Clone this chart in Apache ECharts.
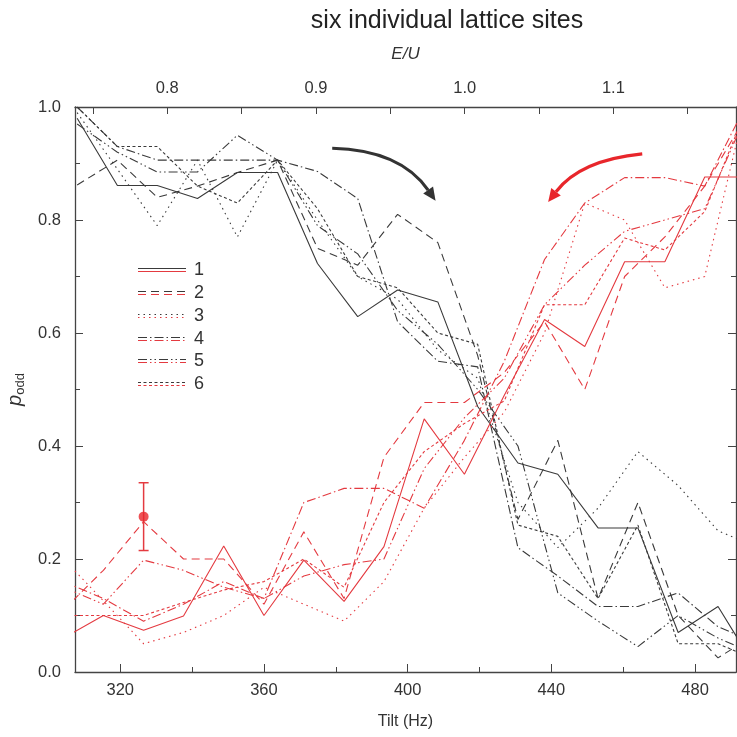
<!DOCTYPE html>
<html>
<head>
<meta charset="utf-8">
<script src="https://cdn.jsdelivr.net/npm/echarts@6/dist/echarts.min.js"></script>
<style>
  html, body { margin: 0; background: #fff; }
  #chart { width: 737px; height: 737px; }
</style>
</head>
<body>
<div id="chart"></div>
<script>
// tilt frequencies (Hz) of the two sweeps
const tiltBlack = [308, 319.2, 330.3, 341.5, 352.6, 363.8, 374.9, 386.1, 397.2, 408.4, 419.5, 430.7, 441.8, 453, 464.1, 475.3, 486.4, 497.6]
const tiltRed   = [304.2, 315.3, 326.5, 337.6, 348.8, 360, 371.1, 382.3, 393.4, 404.6, 415.8, 426.9, 438.1, 449.3, 460.4, 471.6, 482.7, 493.9]

// p_odd, sweep towards higher tilt (black)
const site1Black = [0.98, 0.861, 0.861, 0.838, 0.884, 0.884, 0.723, 0.629, 0.676, 0.655, 0.47, 0.37, 0.35, 0.255, 0.255, 0.07, 0.116, 0.0]
const site2Black = [0.862, 0.906, 0.84, 0.86, 0.884, 0.906, 0.75, 0.72, 0.81, 0.76, 0.56, 0.27, 0.41, 0.13, 0.30, 0.10, 0.025, 0.07]
const site3Black = [0.99, 0.89, 0.79, 0.906, 0.77, 0.906, 0.80, 0.70, 0.66, 0.57, 0.52, 0.30, 0.22, 0.29, 0.39, 0.33, 0.25, 0.22]
const site4Black = [1.0, 0.93, 0.906, 0.906, 0.906, 0.906, 0.886, 0.838, 0.62, 0.55, 0.54, 0.22, 0.17, 0.116, 0.116, 0.14, 0.08, 0.05]
const site5Black = [0.97, 0.92, 0.885, 0.885, 0.95, 0.906, 0.79, 0.74, 0.64, 0.58, 0.50, 0.40, 0.14, 0.09, 0.045, 0.10, 0.06, 0.03]
const site6Black = [1.0, 0.93, 0.93, 0.86, 0.83, 0.906, 0.82, 0.70, 0.68, 0.60, 0.58, 0.26, 0.24, 0.13, 0.26, 0.05, 0.05, 0.02]

// p_odd, reverse sweep (red)
const site1Red = [0.06, 0.10, 0.074, 0.099, 0.223, 0.10, 0.198, 0.125, 0.222, 0.448, 0.35, 0.49, 0.624, 0.576, 0.726, 0.726, 0.876, 0.876]
const site2Red = [0.11, 0.18, 0.266, 0.20, 0.20, 0.12, 0.248, 0.13, 0.38, 0.477, 0.477, 0.53, 0.62, 0.50, 0.70, 0.77, 0.86, 0.98]
const site3Red = [0.20, 0.126, 0.05, 0.07, 0.10, 0.15, 0.12, 0.09, 0.16, 0.29, 0.38, 0.46, 0.60, 0.83, 0.80, 0.68, 0.70, 1.0]
const site4Red = [0.16, 0.13, 0.09, 0.12, 0.16, 0.13, 0.30, 0.325, 0.325, 0.29, 0.41, 0.55, 0.73, 0.83, 0.875, 0.875, 0.86, 1.0]
const site5Red = [0.15, 0.12, 0.198, 0.18, 0.15, 0.13, 0.17, 0.19, 0.20, 0.36, 0.45, 0.52, 0.65, 0.72, 0.78, 0.80, 0.82, 0.98]
const site6Red = [0.10, 0.10, 0.10, 0.123, 0.145, 0.16, 0.20, 0.15, 0.30, 0.39, 0.44, 0.48, 0.65, 0.65, 0.768, 0.747, 0.815, 0.99]

const siteNames = ['1', '2', '3', '4', '5', '6']

// typical error bar
const errTilt = 326.5
const errMean = 0.275
const errLow  = 0.215
const errHigh = 0.335

// axis ticks
const tiltLabels     = [320, 360, 400, 440, 480]
const tiltMinorTicks = [340, 380, 420, 460]
const euLabels       = [0.8, 0.9, 1.0, 1.1]
const euTicks        = [0.75, 0.8, 0.85, 0.9, 0.95, 1.0, 1.05, 1.1, 1.15]

const BLACK = '#3a3a3a'
const RED   = '#e43a40'
const FONT  = '"Liberation Sans", Arial, sans-serif'
const DASHES = ['solid', [8, 5], [1.5, 4], [9, 3, 1.5, 3], [9, 3, 1.5, 3, 1.5, 3], [3, 2.5]]

const blackSets = [site1Black, site2Black, site3Black, site4Black, site5Black, site6Black]
const redSets   = [site1Red, site2Red, site3Red, site4Red, site5Red, site6Red]

const chart = echarts.init(document.getElementById('chart'))

function lineSeries(name, xs, ys, color, dash) {
  return {
    name, type: 'line', xAxisIndex: 0, yAxisIndex: 0,
    data: xs.map((x, i) => [x, ys[i]]),
    symbol: 'none', clip: true, silent: true,
    lineStyle: { color, width: 1.1, type: dash },
    z: 3,
  }
}

const series = []
blackSets.forEach((ys, i) => series.push(lineSeries(siteNames[i], tiltBlack, ys, BLACK, DASHES[i])))
redSets.forEach((ys, i) => series.push(lineSeries(siteNames[i], tiltRed, ys, RED, DASHES[i])))

series.push({
  type: 'custom', xAxisIndex: 0, yAxisIndex: 0, z: 5,
  data: [[errTilt, errLow, errHigh]],
  renderItem(params, api) {
    const top = api.coord([api.value(0), api.value(2)])
    const bot = api.coord([api.value(0), api.value(1)])
    const st = { stroke: RED, lineWidth: 1.5 }
    return {
      type: 'group',
      children: [
        { type: 'line', shape: { x1: top[0], y1: top[1], x2: bot[0], y2: bot[1] }, style: st },
        { type: 'line', shape: { x1: top[0] - 5, y1: top[1], x2: top[0] + 5, y2: top[1] }, style: st },
        { type: 'line', shape: { x1: bot[0] - 5, y1: bot[1], x2: bot[0] + 5, y2: bot[1] }, style: st },
      ],
    }
  },
})
series.push({
  type: 'scatter', xAxisIndex: 0, yAxisIndex: 0, z: 6,
  data: [[errTilt, errMean]], symbolSize: 10,
  itemStyle: { color: '#e8262b' },
})

const labelStyle = { color: '#333', fontSize: 16.5, fontFamily: FONT }
const axisLine = { show: true, lineStyle: { color: '#444', width: 1.3 } }

chart.setOption({
  animation: false,
  title: {
    text: 'six individual lattice sites',
    left: 442, top: 4, textAlign: 'center',
    textStyle: { fontSize: 25, fontWeight: 'normal', color: '#222', fontFamily: FONT },
  },
  grid: { left: 75, right: 1, top: 107, bottom: 65, outerBoundsMode: 'none', containLabel: false },
  xAxis: [
    {
      type: 'value', position: 'bottom', min: 307.4, max: 491.4,
      name: 'Tilt (Hz)', nameLocation: 'middle', nameGap: 42,
      nameTextStyle: { color: '#333', fontSize: 16, fontFamily: FONT },
      axisLine,
      axisTick: { inside: true, length: 8, customValues: tiltLabels, lineStyle: { color: '#444' } },
      axisLabel: { ...labelStyle, margin: 10, customValues: tiltLabels },
      splitLine: { show: false },
    },
    {
      type: 'value', position: 'bottom', min: 307.4, max: 491.4,
      axisLine: { show: false },
      axisTick: { inside: true, length: 5, customValues: tiltMinorTicks, lineStyle: { color: '#444' } },
      axisLabel: { show: false },
      splitLine: { show: false },
    },
    {
      type: 'value', position: 'top', min: 0.7379, max: 1.1825,
      name: 'E/U', nameLocation: 'middle', nameGap: 44,
      nameTextStyle: { color: '#333', fontSize: 17, fontStyle: 'italic', fontFamily: FONT },
      axisLine,
      axisTick: { inside: true, length: 7, customValues: euTicks, lineStyle: { color: '#444' } },
      axisLabel: { ...labelStyle, margin: 10, customValues: euLabels, formatter: v => v.toFixed(1) },
      splitLine: { show: false },
    },
  ],
  yAxis: [
    {
      type: 'value', position: 'left', min: 0, max: 1, interval: 0.2,
      name: '{p|p}{s|odd}', nameLocation: 'middle', nameGap: 36,
      nameTextStyle: {
        color: '#333', fontFamily: FONT,
        rich: {
          p: { fontSize: 20, fontStyle: 'italic', fontFamily: FONT, color: '#333', lineHeight: 24, verticalAlign: 'middle' },
          s: { fontSize: 13, fontFamily: FONT, color: '#333', lineHeight: 24, verticalAlign: 'bottom', padding: [8, 0, 0, 0] },
        },
      },
      axisLine,
      axisTick: { inside: true, length: 8, lineStyle: { color: '#444' } },
      minorTick: { show: true, splitNumber: 2, length: 5, lineStyle: { color: '#444' } },
      axisLabel: { ...labelStyle, margin: 14, formatter: v => v.toFixed(1) },
      splitLine: { show: false },
    },
    {
      type: 'value', position: 'right', min: 0, max: 1, interval: 0.2,
      axisLine,
      axisTick: { inside: true, length: 8, lineStyle: { color: '#444' } },
      minorTick: { show: true, splitNumber: 2, length: 5, lineStyle: { color: '#444' } },
      axisLabel: { show: false },
      splitLine: { show: false },
    },
  ],
  series,
})

// arrows (data coordinates: start, control, end)
const blackArrow = [[379.0, 0.927], [397.9, 0.924], [405.7, 0.853]]
const redArrow   = [[465.3, 0.917], [448.0, 0.906], [441.3, 0.850]]

function arrow(pts, color) {
  const [s, c, e] = pts.map(p => chart.convertToPixel({ xAxisIndex: 0, yAxisIndex: 0 }, p))
  const dx = e[0] - c[0], dy = e[1] - c[1]
  const len = Math.hypot(dx, dy)
  const ux = dx / len, uy = dy / len
  const tip = [e[0] + ux * 13, e[1] + uy * 13]
  const l = [e[0] - uy * 6, e[1] + ux * 6]
  const r = [e[0] + uy * 6, e[1] - ux * 6]
  return [
    { type: 'bezierCurve', silent: true, z: 10,
      shape: { x1: s[0], y1: s[1], x2: e[0], y2: e[1], cpx1: c[0], cpy1: c[1] },
      style: { stroke: color, lineWidth: 3.2, fill: null } },
    { type: 'polygon', silent: true, z: 10,
      shape: { points: [tip, l, r] }, style: { fill: color } },
  ]
}

// legend drawn by hand: each entry shows the black and the red line
const legendRows = [270, 293, 316, 339, 361, 384]
const legend = []
legendRows.forEach((y, i) => {
  const dash = DASHES[i] === 'solid' ? null : DASHES[i]
  legend.push({ type: 'line', silent: true, shape: { x1: 138, y1: y - 1.5, x2: 186, y2: y - 1.5 },
    style: { stroke: BLACK, lineWidth: 1.1, lineDash: dash } })
  legend.push({ type: 'line', silent: true, shape: { x1: 138, y1: y + 1.5, x2: 186, y2: y + 1.5 },
    style: { stroke: RED, lineWidth: 1.1, lineDash: dash } })
  legend.push({ type: 'text', silent: true, x: 194, y: y, style: {
    text: siteNames[i], fill: '#333', fontSize: 18, fontFamily: FONT, verticalAlign: 'middle' } })
})

chart.setOption({
  graphic: [...arrow(blackArrow, '#333'), ...arrow(redArrow, '#e8262b'), ...legend],
})
</script>
</body>
</html>
